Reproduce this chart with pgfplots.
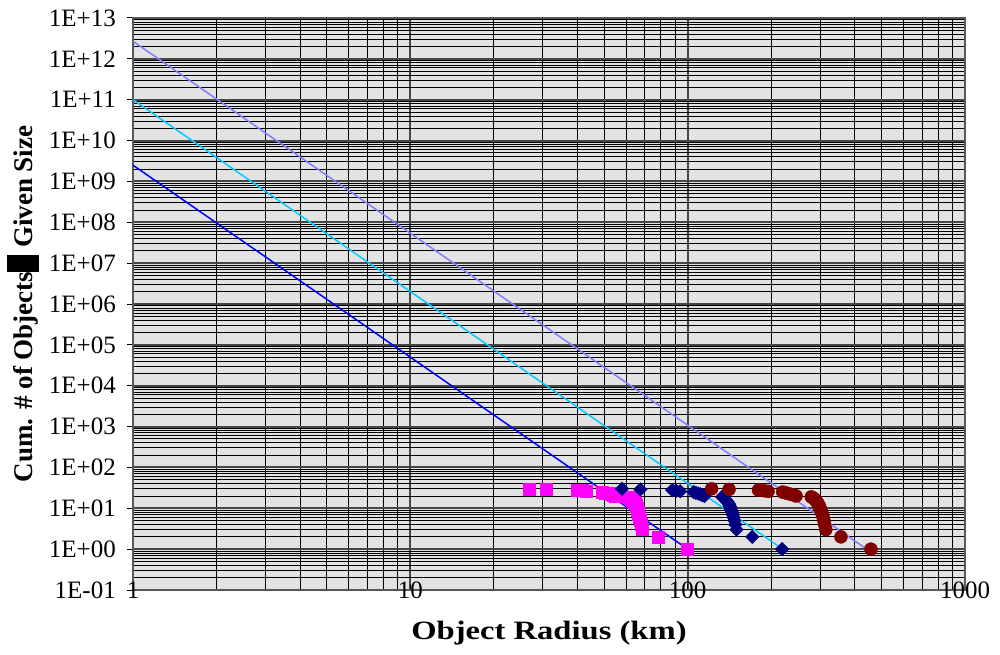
\documentclass[border=0pt]{standalone}
\usepackage{fontspec}
\setmainfont{Liberation Serif}
\newfontfamily\xlabfont[FakeStretch=1.23]{Liberation Serif}
\usepackage{pgfplots}
\pgfplotsset{compat=1.18}
\definecolor{magX}{HTML}{FF00FF}
\definecolor{navyX}{HTML}{000080}
\definecolor{redX}{HTML}{800000}
\definecolor{blueL}{HTML}{0000FF}
\definecolor{cyanL}{HTML}{00CCFF}
\definecolor{purpL}{HTML}{8080FF}
\definecolor{plotbg}{HTML}{E3E3E3}
\begin{document}
\begin{tikzpicture}
\useasboundingbox (0,0) rectangle (1000pt,654pt);
\begin{axis}[
  at={(133pt,64pt)}, anchor=south west,
  scale only axis, width=832pt, height=572pt,
  xmode=log, ymode=log,
  xmin=1, xmax=1000, ymin=0.1, ymax=1e13,
  xtick={1,10,100,1000}, xticklabels={1,10,100,1000},
  ytick={1e-1,1,1e1,1e2,1e3,1e4,1e5,1e6,1e7,1e8,1e9,1e10,1e11,1e12,1e13},
  yticklabels={1E-01,1E+00,1E+01,1E+02,1E+03,1E+04,1E+05,1E+06,1E+07,1E+08,1E+09,1E+10,1E+11,1E+12,1E+13},
  minor xtick={2,3,4,5,6,7,8,9,20,30,40,50,60,70,80,90,200,300,400,500,600,700,800,900},
  minor ytick={2e-1,3e-1,4e-1,5e-1,6e-1,7e-1,8e-1,9e-1,
    2,3,4,5,6,7,8,9,
    2e1,3e1,4e1,5e1,6e1,7e1,8e1,9e1,
    2e2,3e2,4e2,5e2,6e2,7e2,8e2,9e2,
    2e3,3e3,4e3,5e3,6e3,7e3,8e3,9e3,
    2e4,3e4,4e4,5e4,6e4,7e4,8e4,9e4,
    2e5,3e5,4e5,5e5,6e5,7e5,8e5,9e5,
    2e6,3e6,4e6,5e6,6e6,7e6,8e6,9e6,
    2e7,3e7,4e7,5e7,6e7,7e7,8e7,9e7,
    2e8,3e8,4e8,5e8,6e8,7e8,8e8,9e8,
    2e9,3e9,4e9,5e9,6e9,7e9,8e9,9e9,
    2e10,3e10,4e10,5e10,6e10,7e10,8e10,9e10,
    2e11,3e11,4e11,5e11,6e11,7e11,8e11,9e11,
    2e12,3e12,4e12,5e12,6e12,7e12,8e12,9e12},
  grid=both,
  major grid style={draw=gray!55!black, line width=2pt},
  minor grid style={draw=black, line width=0.9pt},
  axis background/.style={fill=plotbg},
  axis line style={draw=gray!70!black, line width=1.5pt},
  tick pos=left,
  xtick align=inside, ytick align=outside,
  major tick length=6pt, minor tick length=0pt,
  tick style={black, line width=1pt},
  tick label style={font=\fontsize{25}{30}\selectfont},
  xticklabel style={anchor=center, inner sep=0pt},
  yticklabel style={anchor=east, inner sep=0pt, xshift=-11pt},
  xlabel={Object Radius (km)},
  xlabel style={font=\xlabfont\bfseries\fontsize{26.5}{30}\selectfont, at={(axis description cs:0.5,-0.075)}, anchor=center},
  ylabel={Cum. \# of Objects\rule[-0.26em]{0.63em}{1.19em} Given Size},
  ylabel style={font=\bfseries\fontsize{27}{32}\selectfont, at={(axis description cs:-0.132,0.5)}, anchor=center},
]
\addplot[color=blueL, line width=1.5pt] coordinates {(1,2.5e9) (100,1)};
\addplot[color=cyanL, line width=1.5pt] coordinates {(1,1e11) (228,0.85)};
\addplot[color=purpL, line width=1.5pt] coordinates {(1,2.7e12) (470,0.75)};
\addplot[only marks, mark=square*, mark size=6pt, color=magX] table {
r N
26.8 30
30.9 29
40 28
41.5 27
43 26
49 25
50.5 24
52 23
53 22
54 21
55 20
61 19
62 18
62.5 17
63 16
63.5 15
64 14
64.5 13
65 12
65.3 11
65.7 10
66 9
66.2 8
66.4 7
66.8 6
67.3 5
67.8 4
68.4 3
78 2
100 1
};
\addplot[only marks, mark=square*, mark options={rotate=45}, mark size=4.8pt, color=navyX] table {
r N
58 30
67.5 29
88 28
91 27
94 26
105 25
107 24
109 23
111 22
113 21
115 20
133 19
135 18
136 17
137 16
138.5 15
139.5 14
140.5 13
141.5 12
142 11
142.5 10
143.5 9
144.5 8
145.5 7
146.5 6
147.5 5
148.5 4
150 3
171 2
219 1
};
\addplot[only marks, mark=*, mark size=6.5pt, color=redX] table {
r N
122 30
141 29
180 28
188 27
195 26
220 25
225 24
230 23
236 22
242 21
246 20
279 19
283 18
286 17
289 16
291 15
293 14
295 13
297 12
299 11
300 10
302 9
304 8
306 7
308 6
310 5
312 4
315 3
357 2
458 1
};
\end{axis}
\end{tikzpicture}
\end{document}
